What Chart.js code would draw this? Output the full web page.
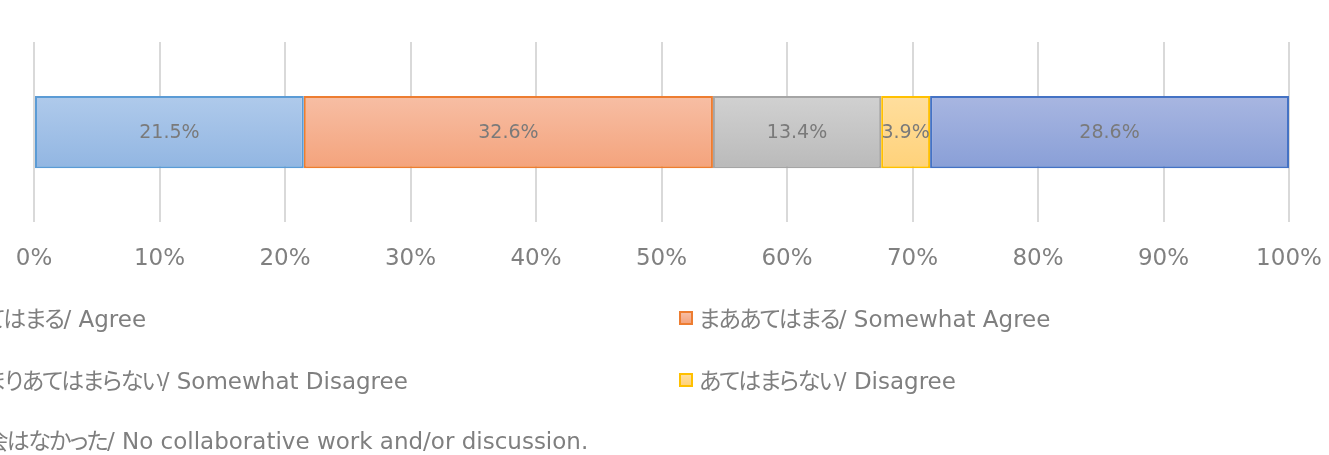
<!DOCTYPE html>
<html>
<head>
<meta charset="utf-8">
<script src="https://cdn.jsdelivr.net/npm/chart.js@4/dist/chart.umd.min.js"></script>
<style>
  html, body { margin: 0; padding: 0; background: #fff; overflow: hidden; }
  #wrap { position: relative; width: 1329px; height: 455px; overflow: hidden; }
  #wrap canvas { position: absolute; left: 0; top: 0; }
  .lg { position: absolute; white-space: nowrap; font-family: "DejaVu Sans", "Noto Sans CJK JP", sans-serif;
        font-size: 23px; color: #7f7f7f; line-height: 28px; }
  .lg .jp { font-family: "Noto Sans CJK JP", sans-serif; font-feature-settings: "palt"; letter-spacing: -1.6px; }
  .lg i { position: absolute; width: 10px; height: 10px; border: 2px solid; top: 8px; }
</style>
</head>
<body>
<div id="wrap"><canvas id="c" width="1329" height="455"></canvas></div>
<script>
const categories = [""];
const seriesLabels = [
  "あてはまる/ Agree",
  "まああてはまる/ Somewhat Agree",
  "あまりあてはまらない/ Somewhat Disagree",
  "あてはまらない/ Disagree",
  "機会はなかった/ No collaborative work and/or discussion."
];
const agree = [21.5];
const somewhatAgree = [32.6];
const somewhatDisagree = [13.4];
const disagree = [3.9];
const noWork = [28.6];
const tickValues = [0, 10, 20, 30, 40, 50, 60, 70, 80, 90, 100];

const seriesValues = [agree, somewhatAgree, somewhatDisagree, disagree, noWork];
const fillTop =    ["#afcaeb", "#f7bea4", "#d1d1d1", "#ffde9e", "#a8b6e1"];
const fillBottom = ["#92b6e2", "#f4a37c", "#bababa", "#ffd27a", "#899fd7"];
const borders =    ["#5b9bd5", "#ed7d31", "#a5a5a5", "#ffc000", "#4472c4"];

function gradientFor(i) {
  return (ctx) => {
    const chart = ctx.chart;
    const a = chart.chartArea;
    if (!a) return fillTop[i];
    const h = a.bottom - a.top;
    const g = chart.ctx.createLinearGradient(0, a.top + 0.3 * h, 0, a.top + 0.7 * h);
    g.addColorStop(0, fillTop[i]);
    g.addColorStop(1, fillBottom[i]);
    return g;
  };
}

const valueLabels = {
  id: 'valueLabels',
  afterDatasetsDraw(chart) {
    const ctx = chart.ctx;
    ctx.save();
    ctx.font = '19px "DejaVu Sans", sans-serif';
    ctx.fillStyle = '#7a7a7a';
    ctx.textAlign = 'center';
    ctx.textBaseline = 'middle';
    chart.data.datasets.forEach((ds, di) => {
      const meta = chart.getDatasetMeta(di);
      meta.data.forEach((el, j) => {
        const v = ds.data[j];
        const x = (el.x + el.base) / 2;
        ctx.fillText(v.toFixed(1) + '%', x, el.y + 1);
      });
    });
    ctx.restore();
  }
};

new Chart(document.getElementById('c'), {
  type: 'bar',
  data: {
    labels: categories,
    datasets: seriesValues.map((vals, i) => ({
      label: seriesLabels[i],
      data: vals,
      backgroundColor: gradientFor(i),
      borderColor: borders[i],
      borderWidth: 2,
      borderSkipped: false,
      barPercentage: 0.4,
      categoryPercentage: 1.0
    }))
  },
  options: {
    indexAxis: 'y',
    responsive: false,
    animation: false,
    events: [],
    layout: { padding: { left: 34, right: 40, top: 42, bottom: 181 } },
    plugins: { legend: { display: false }, tooltip: { enabled: false } },
    scales: {
      x: {
        stacked: true,
        min: 0, max: 100,
        afterBuildTicks: (axis) => { axis.ticks = tickValues.map(v => ({ value: v })); },
        grid: { color: '#d9d9d9', lineWidth: 2, drawTicks: true, tickLength: 22, tickColor: 'rgba(0,0,0,0)' },
        border: { display: false },
        ticks: {
          padding: 1,
          color: '#808080',
          font: { family: '"DejaVu Sans", sans-serif', size: 23 },
          callback: (v) => v + '%'
        }
      },
      y: { stacked: true, display: false }
    }
  },
  plugins: [valueLabels]
});

// HTML legend (two columns, left column partly off-canvas as in the reference)
const colX = [-56, 679];
const rowY = [303, 365, 425];
const wrap = document.getElementById('wrap');
seriesLabels.forEach((lab, i) => {
  const d = document.createElement('div');
  d.className = 'lg';
  d.style.left = colX[i % 2] + 'px';
  d.style.top = rowY[Math.floor(i / 2)] + 'px';
  d.style.paddingLeft = '20px';
  const m = document.createElement('i');
  m.style.left = '0px';
  m.style.borderColor = borders[i];
  m.style.background = 'linear-gradient(' + fillTop[i] + ',' + fillBottom[i] + ')';
  d.appendChild(m);
  const cut = lab.indexOf('/');
  const jp = document.createElement('span');
  jp.className = 'jp';
  jp.textContent = lab.slice(0, cut);
  d.appendChild(jp);
  d.appendChild(document.createTextNode(lab.slice(cut)));
  wrap.appendChild(d);
});
</script>
</body>
</html>
